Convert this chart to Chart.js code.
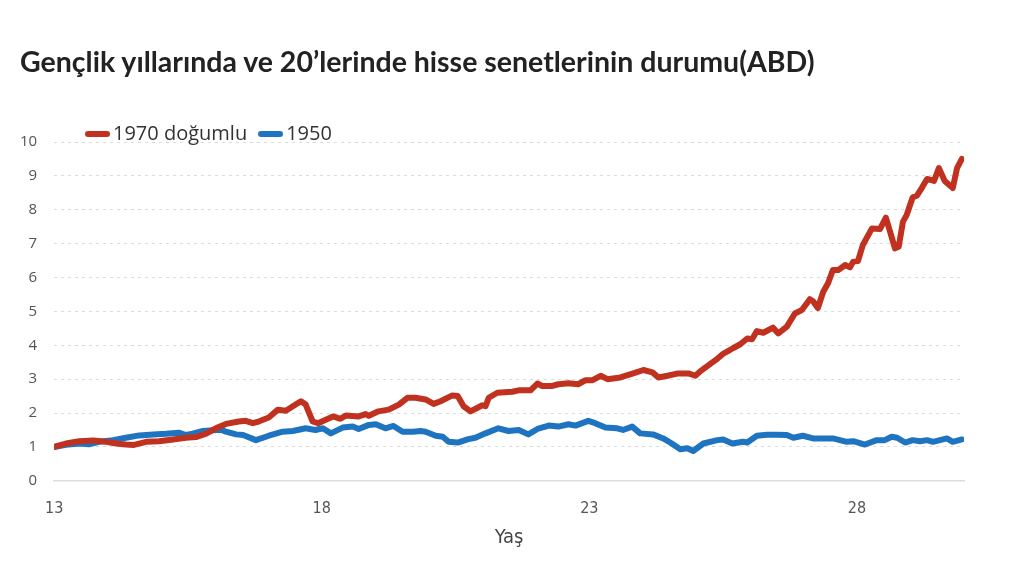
<!DOCTYPE html>
<html lang="tr">
<head>
<meta charset="utf-8">
<title>Gençlik yıllarında ve 20’lerinde hisse senetlerinin durumu(ABD)</title>
<script src="https://cdn.jsdelivr.net/npm/chart.js@4.4.1/dist/chart.umd.min.js"></script>
<style>
  html, body { margin: 0; padding: 0; background: #fff; }
  #wrap { position: relative; width: 1024px; height: 572px; }
  #title {
    position: absolute; left: 20px; top: 44px;
    font: 700 28.5px Lato, "Noto Sans", sans-serif; color: #222; white-space: nowrap;
  }
  #legend {
    position: absolute; left: 85px; top: 119px; height: 24px; line-height: 24px;
    font: 400 20px "Open Sans", sans-serif; color: #333; white-space: nowrap;
  }
  #legend span.item { display: inline-block; margin-right: 11px; }
  #legend i {
    display: inline-block; width: 25px; height: 6px; border-radius: 3px;
    vertical-align: middle; margin-right: 3px; position: relative; top: -1px;
  }
  canvas { position: absolute; left: 0; top: 0; }
</style>
</head>
<body>
<div id="wrap">
  <canvas id="stocksChart" width="1024" height="572"></canvas>
  <div id="title">Gençlik yıllarında ve 20’lerinde hisse senetlerinin durumu(ABD)</div>
  <div id="legend"></div>
</div>
<script>
// age (years) and value of the investment, born 1970
const ages1970 = [13.00, 13.22, 13.47, 13.73, 13.97, 14.16, 14.34, 14.49, 14.72, 14.96,
  15.22, 15.46, 15.65, 15.84, 16.02, 16.21, 16.45, 16.58, 16.71, 16.82,
  17.01, 17.18, 17.33, 17.46, 17.61, 17.70, 17.83, 17.93, 18.21, 18.35,
  18.45, 18.69, 18.82, 18.88, 19.06, 19.25, 19.44, 19.60, 19.75, 19.94,
  20.09, 20.22, 20.44, 20.54, 20.65, 20.78, 21.00, 21.06, 21.12, 21.28,
  21.56, 21.68, 21.90, 22.03, 22.12, 22.31, 22.42, 22.61, 22.79, 22.93,
  23.06, 23.21, 23.34, 23.58, 23.82, 24.01, 24.18, 24.29, 24.46, 24.66,
  24.85, 24.98, 25.07, 25.26, 25.39, 25.50, 25.59, 25.69, 25.82, 25.95,
  26.04, 26.13, 26.25, 26.43, 26.53, 26.69, 26.84, 26.97, 27.12, 27.18,
  27.27, 27.37, 27.46, 27.55, 27.65, 27.78, 27.87, 27.93, 28.02, 28.11,
  28.28, 28.43, 28.54, 28.62, 28.71, 28.78, 28.86, 28.93, 29.04, 29.12,
  29.21, 29.31, 29.44, 29.53, 29.64, 29.79, 29.87, 29.96];
const values1970 = [1.00, 1.10, 1.17, 1.19, 1.15, 1.10, 1.07, 1.06, 1.15, 1.17,
  1.22, 1.27, 1.29, 1.39, 1.55, 1.68, 1.75, 1.77, 1.70, 1.75,
  1.87, 2.10, 2.07, 2.20, 2.35, 2.25, 1.75, 1.70, 1.90, 1.83,
  1.93, 1.90, 1.97, 1.92, 2.05, 2.10, 2.25, 2.45, 2.45, 2.40,
  2.27, 2.35, 2.52, 2.50, 2.20, 2.05, 2.23, 2.20, 2.45, 2.60,
  2.63, 2.67, 2.67, 2.87, 2.80, 2.80, 2.85, 2.88, 2.85, 2.97,
  2.97, 3.10, 3.00, 3.05, 3.17, 3.27, 3.20, 3.05, 3.10, 3.17,
  3.17, 3.10, 3.23, 3.45, 3.60, 3.75, 3.83, 3.92, 4.03, 4.20,
  4.18, 4.42, 4.37, 4.52, 4.35, 4.55, 4.94, 5.04, 5.36, 5.30,
  5.10, 5.58, 5.83, 6.22, 6.22, 6.37, 6.30, 6.47, 6.49, 6.96,
  7.45, 7.43, 7.77, 7.35, 6.86, 6.91, 7.65, 7.85, 8.36, 8.42,
  8.64, 8.91, 8.85, 9.23, 8.85, 8.64, 9.23, 9.50];

// age (years) and value of the investment, born 1950
const ages1950 = [13.00, 13.22, 13.47, 13.65, 13.84, 14.10, 14.34, 14.59, 14.85, 15.09,
  15.33, 15.46, 15.59, 15.78, 15.97, 16.12, 16.21, 16.40, 16.53, 16.77,
  17.01, 17.27, 17.46, 17.70, 17.88, 18.02, 18.17, 18.39, 18.58, 18.69,
  18.88, 19.01, 19.19, 19.34, 19.51, 19.70, 19.85, 19.94, 20.13, 20.26,
  20.37, 20.54, 20.74, 20.87, 21.06, 21.30, 21.49, 21.68, 21.86, 22.03,
  22.24, 22.42, 22.61, 22.74, 22.98, 23.11, 23.30, 23.52, 23.63, 23.80,
  23.95, 24.19, 24.38, 24.51, 24.70, 24.83, 24.94, 25.13, 25.39, 25.50,
  25.67, 25.87, 25.95, 26.13, 26.32, 26.51, 26.69, 26.81, 26.99, 27.18,
  27.55, 27.81, 27.93, 28.15, 28.37, 28.52, 28.65, 28.75, 28.90, 29.04,
  29.18, 29.31, 29.42, 29.68, 29.79, 29.96];
const values1950 = [1.00, 1.06, 1.10, 1.08, 1.15, 1.20, 1.27, 1.34, 1.37, 1.39,
  1.42, 1.35, 1.39, 1.47, 1.49, 1.51, 1.45, 1.37, 1.35, 1.20,
  1.33, 1.45, 1.47, 1.55, 1.50, 1.55, 1.40, 1.57, 1.60, 1.53,
  1.65, 1.67, 1.55, 1.62, 1.45, 1.45, 1.47, 1.45, 1.33, 1.30,
  1.15, 1.13, 1.23, 1.27, 1.40, 1.55, 1.47, 1.50, 1.37, 1.53,
  1.63, 1.60, 1.67, 1.63, 1.77, 1.70, 1.57, 1.55, 1.50, 1.60,
  1.40, 1.37, 1.25, 1.13, 0.93, 0.96, 0.88, 1.10, 1.20, 1.22,
  1.10, 1.15, 1.13, 1.33, 1.36, 1.36, 1.35, 1.27, 1.33, 1.25,
  1.25, 1.15, 1.17, 1.07, 1.20, 1.20, 1.30, 1.27, 1.13, 1.20,
  1.17, 1.20, 1.15, 1.25, 1.15, 1.22];

const seriesNames = ['1970 doğumlu', '1950'];
const seriesColors = ['#c0321f', '#1f74c1'];
const xTicks = [13, 18, 23, 28];
const xTitle = 'Yaş';

const toPoints = (xs, ys) => xs.map((x, i) => ({ x: x, y: ys[i] }));

const legendBox = document.getElementById('legend');
seriesNames.forEach((name, i) => {
  const item = document.createElement('span');
  item.className = 'item';
  item.innerHTML = '<i style="background:' + seriesColors[i] + '"></i>' + name;
  legendBox.appendChild(item);
});

const lineStyle = {
  borderWidth: 6,
  pointRadius: 0,
  tension: 0,
  borderJoinStyle: 'round',
  borderCapStyle: 'round',
  fill: false
};

const narrowFont = '"Liberation Sans Narrow", "DejaVu Sans Condensed", sans-serif';

new Chart(document.getElementById('stocksChart'), {
  type: 'line',
  data: {
    datasets: [
      Object.assign({ label: seriesNames[0], data: toPoints(ages1970, values1970),
        borderColor: seriesColors[0], backgroundColor: seriesColors[0] }, lineStyle),
      Object.assign({ label: seriesNames[1], data: toPoints(ages1950, values1950),
        borderColor: seriesColors[1], backgroundColor: seriesColors[1] }, lineStyle)
    ]
  },
  options: {
    responsive: false,
    animation: false,
    devicePixelRatio: 1,
    layout: { padding: { top: 142, left: 3, right: 60, bottom: 22 } },
    plugins: {
      legend: { display: false },
      title: { display: false },
      tooltip: { enabled: false }
    },
    scales: {
      x: {
        type: 'linear',
        min: 13,
        max: 30,
        afterBuildTicks: (scale) => { scale.ticks = xTicks.map(v => ({ value: v })); },
        grid: { display: false, drawTicks: false },
        border: { display: true, color: '#dcdcdc', width: 1.5 },
        ticks: {
          padding: 18,
          color: '#555',
          font: { family: narrowFont, size: 16 },
          maxRotation: 0
        },
        title: {
          display: true,
          text: xTitle,
          color: '#444',
          padding: { top: -10, bottom: 0 },
          font: { family: narrowFont, size: 20 }
        }
      },
      y: {
        min: 0,
        max: 10,
        ticks: {
          stepSize: 1,
          padding: 17,
          color: '#555',
          font: { family: '"Open Sans", sans-serif', size: 15 }
        },
        grid: {
          color: '#dcdcdc',
          lineWidth: 1,
          drawTicks: false
        },
        border: { display: false, dash: [3, 4] }
      }
    }
  }
});
</script>
</body>
</html>
